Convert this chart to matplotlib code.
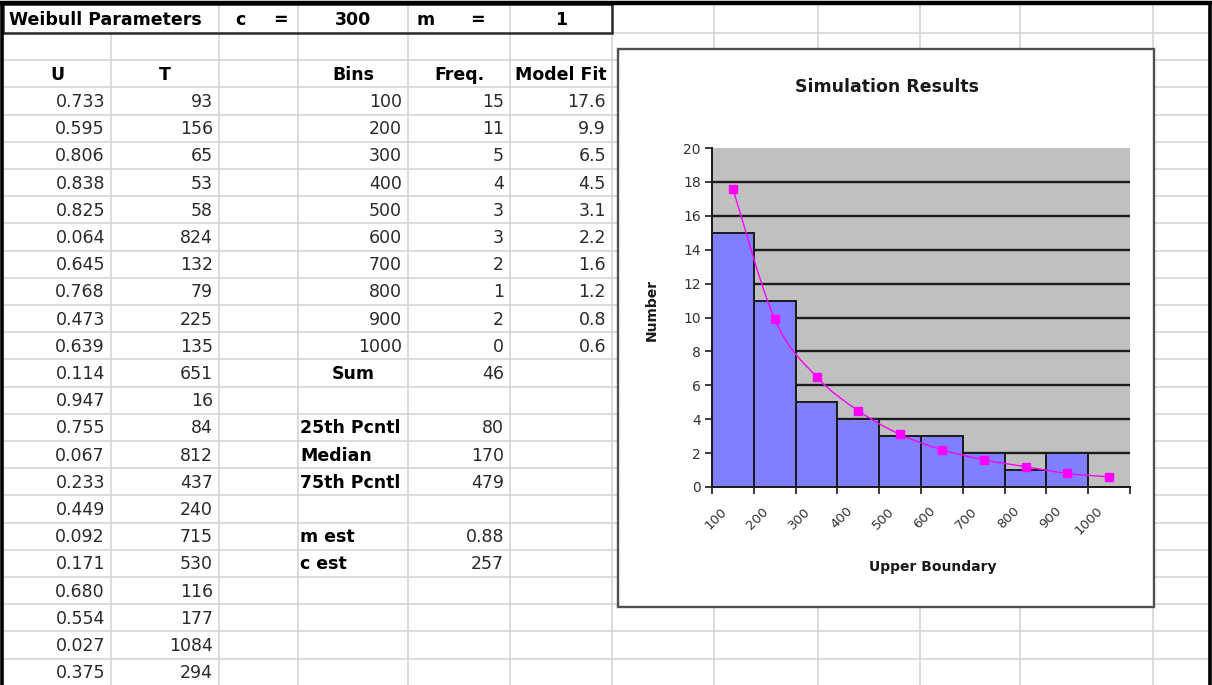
import matplotlib
matplotlib.use("Agg")
import matplotlib.pyplot as plt
import matplotlib.transforms as mtransforms
import numpy as np
from matplotlib.patches import Rectangle, PathPatch
from matplotlib.path import Path

W, H = 1212, 685

# Weibull parameters used for the simulation
weibull_c = 300
weibull_m = 1

# simulated uniform draws and the resulting failure times
u_draws = [0.733, 0.595, 0.806, 0.838, 0.825, 0.064, 0.645, 0.768, 0.473, 0.639, 0.114,
           0.947, 0.755, 0.067, 0.233, 0.449, 0.092, 0.171, 0.680, 0.554, 0.027, 0.375]
t_times = [93, 156, 65, 53, 58, 824, 132, 79, 225, 135, 651,
           16, 84, 812, 437, 240, 715, 530, 116, 177, 1084, 294]

# histogram of the times
bins = [100, 200, 300, 400, 500, 600, 700, 800, 900, 1000]
freq = [15, 11, 5, 4, 3, 3, 2, 1, 2, 0]
model_fit = [17.6, 9.9, 6.5, 4.5, 3.1, 2.2, 1.6, 1.2, 0.8, 0.6]

# summary statistics
pct_labels = ["25th Pcntl", "Median", "75th Pcntl"]
pct_values = [80, 170, 479]
m_est = 0.88
c_est = 257

# sheet layout (pixels)
col_edges = [3, 111, 219, 298, 408, 510, 612, 714, 818, 920, 1020, 1153, 1210]
row_edges = [4, 33] + [33 + 27.2 * k for k in range(1, 25)]

CELL_FONT = "DejaVu Sans"
CELL_SIZE = 12.5
INK = "#2a2a2a"

fig = plt.figure(figsize=(W / 100, H / 100), dpi=100)
sheet = fig.add_axes([0, 0, 1, 1])
sheet.set_xlim(0, W)
sheet.set_ylim(H, 0)
sheet.axis("off")

# cell grid
grid_kw = dict(color="#d2d2d2", lw=1.1, zorder=1)
for y in row_edges[1:]:
    sheet.plot([3, W - 2], [y, y], **grid_kw)
for x in col_edges[1:-1]:
    top = row_edges[1] if x == col_edges[1] else row_edges[0]
    sheet.plot([x, x], [top, H], **grid_kw)

# outer window frame
sheet.plot([0, W], [3, 3], color="black", lw=3.2, zorder=6)
sheet.plot([2, 2], [3, H], color="black", lw=2.6, zorder=6)
sheet.plot([W - 2, W - 2], [3, H], color="black", lw=2.6, zorder=6)

# parameter box on the first row
sheet.add_patch(Rectangle((3, 4), col_edges[6] - 3, row_edges[1] - 4, fill=False,
                          edgecolor="#2a2a2a", lw=1.8, zorder=4))


def cell(col, row, s, align="right", bold=False, dx=0):
    x0, x1 = col_edges[col], col_edges[col + 1]
    yc = (row_edges[row] + row_edges[row + 1]) / 2 + 1
    if align == "right":
        x, ha = x1 - 6, "right"
    elif align == "left":
        x, ha = x0 + 4, "left"
    else:
        x, ha = (x0 + x1) / 2, "center"
    sheet.text(x + dx, yc, s, ha=ha, va="center", family=CELL_FONT, size=CELL_SIZE,
               weight="bold" if bold else "normal", color="black" if bold else INK,
               zorder=5)


# first row
cell(0, 0, "Weibull Parameters", "left", True, dx=2)
cell(2, 0, "c", "left", True, dx=12)
cell(2, 0, "=", "center", True, dx=22)
cell(3, 0, str(weibull_c), "center", True)
cell(4, 0, "m", "left", True, dx=5)
cell(4, 0, "=", "center", True, dx=18)
cell(5, 0, str(weibull_m), "center", True)

# headers
for col, name in zip([0, 1, 3, 4, 5], ["U", "T", "Bins", "Freq.", "Model Fit"]):
    cell(col, 2, name, "center", True)

first = 3
for i, (u, t) in enumerate(zip(u_draws, t_times)):
    cell(0, first + i, f"{u:.3f}")
    cell(1, first + i, str(t))

for i, (b, f, mf) in enumerate(zip(bins, freq, model_fit)):
    cell(3, first + i, str(b))
    cell(4, first + i, str(f))
    cell(5, first + i, f"{mf:.1f}")

sum_row = first + len(bins)
cell(3, sum_row, "Sum", "center", True)
cell(4, sum_row, str(sum(freq)))
for k, (lab, val) in enumerate(zip(pct_labels, pct_values)):
    cell(3, sum_row + 2 + k, lab, "left", True, dx=-2)
    cell(4, sum_row + 2 + k, str(val))
cell(3, sum_row + 6, "m est", "left", True, dx=-2)
cell(4, sum_row + 6, f"{m_est:.2f}")
cell(3, sum_row + 7, "c est", "left", True, dx=-2)
cell(4, sum_row + 7, str(c_est))

# embedded chart
sheet.add_patch(Rectangle((618, 49), 1154 - 618, 607 - 49, facecolor="white",
                          edgecolor="#505050", lw=1.7, zorder=7))

px, py0, px1, py1 = 712, 148, 1130, 487
ax = fig.add_axes([px / W, 1 - py1 / H, (px1 - px) / W, (py1 - py0) / H], zorder=8)
ax.set_facecolor("#c0c0c0")

xc = np.arange(len(bins)) + 0.5
ax.set_xlim(0, len(bins))
ax.set_ylim(0, 20)
yt = np.arange(0, 21, 2)
ax.set_yticks(yt)
ax.hlines(yt[1:-1], 0, len(bins), color="#1c1c1c", lw=1.7, zorder=1)
ax.bar(xc, freq, width=1.0, color="#8080ff", edgecolor="#1a1a1a", lw=1.4, zorder=2)

# smoothed model-fit line
pts = np.column_stack([xc, model_fit])
ext = np.vstack([pts[0], pts, pts[-1]])
verts, codes = [tuple(pts[0])], [Path.MOVETO]
for i in range(len(pts) - 1):
    p0, p1, p2, p3 = ext[i], ext[i + 1], ext[i + 2], ext[i + 3]
    verts += [tuple(p1 + (p2 - p0) / 6), tuple(p2 - (p3 - p1) / 6), tuple(p2)]
    codes += [Path.CURVE4] * 3
ax.add_patch(PathPatch(Path(verts, codes), fill=False, edgecolor="#ff00ff", lw=1.0, zorder=3))
ax.plot(xc, model_fit, ls="none", marker="s", ms=5.5, color="#ff00ff", zorder=4, clip_on=False)

for side in ["top", "right"]:
    ax.spines[side].set_visible(False)
for side in ["left", "bottom"]:
    ax.spines[side].set_color("#1a1a1a")
    ax.spines[side].set_linewidth(1.4)

ax.tick_params(axis="y", direction="out", length=5, width=1.2, color="#1a1a1a",
               labelsize=10, labelcolor="#333333", pad=3)
ax.set_xticks(np.arange(len(bins) + 1))
ax.set_xticklabels([])
ax.set_xticks(xc, minor=True)
ax.set_xticklabels([str(b) for b in bins], minor=True, rotation=45, ha="right",
                   va="center", rotation_mode="anchor", fontsize=9.5, color="#333333")
ax.tick_params(axis="x", which="major", direction="out", length=5, width=1.2, color="#1a1a1a")
ax.tick_params(axis="x", which="minor", length=0, pad=16)
shift = mtransforms.ScaledTranslation(-8 / 100, 0, fig.dpi_scale_trans)
for lab in ax.get_xticklabels(minor=True):
    lab.set_transform(lab.get_transform() + shift)

fig.text(887 / W, 1 - 87 / H, "Simulation Results", ha="center", va="center",
         weight="bold", size=12.5, color="#1a1a1a", zorder=9)
fig.text(652 / W, 1 - 310 / H, "Number", ha="center", va="center", rotation=90,
         weight="bold", size=10, color="#1a1a1a", zorder=9)
fig.text(933 / W, 1 - 567 / H, "Upper Boundary", ha="center", va="center",
         weight="bold", size=10, color="#1a1a1a", zorder=9)

fig.savefig("out.png", dpi=100)
